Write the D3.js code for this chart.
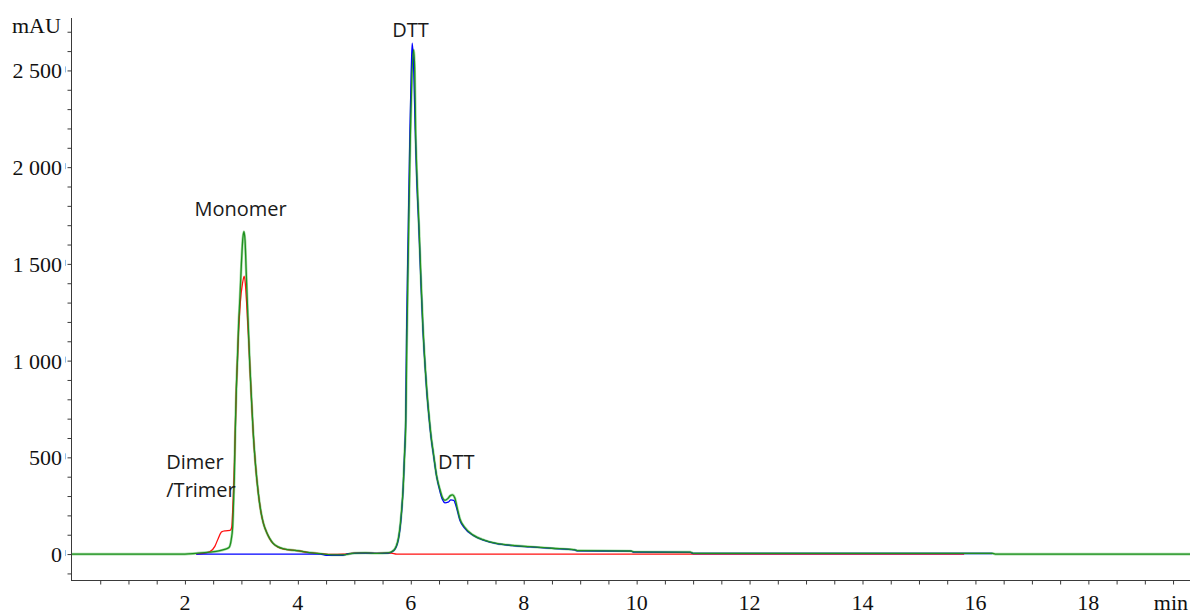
<!DOCTYPE html>
<html>
<head>
<meta charset="utf-8">
<script src="https://cdn.jsdelivr.net/npm/d3@7"></script>
<style>
  html, body { margin: 0; padding: 0; background: #ffffff; }
  svg { display: block; }
  .axis-label { font-family: "Liberation Serif", "DejaVu Serif", serif; font-size: 22px; fill: #111; }
  .peak-label { font-family: "Open Sans", "Noto Sans", sans-serif; font-size: 20px; fill: #1a1a1a; }
</style>
</head>
<body>
<svg id="chart" width="1190" height="614"></svg>
<script>
// Chromatogram traces: [retention time (min), absorbance (mAU)]
const traceRed = [
  [2.20, 0], [2.30, 3], [2.44, 12], [2.53, 40], [2.59, 81], [2.65, 115], [2.72, 120],
  [2.80, 122], [2.83, 140], [2.85, 250], [2.87, 400], [2.89, 620], [2.91, 850],
  [2.93, 1000], [2.95, 1150], [2.98, 1300], [3.02, 1400], [3.05, 1437], [3.075, 1380],
  [3.10, 1260], [3.13, 1100], [3.15, 970], [3.18, 790], [3.21, 625], [3.25, 460],
  [3.30, 314], [3.35, 210], [3.39, 159], [3.45, 110], [3.50, 80], [3.56, 55],
  [3.65, 36], [3.75, 26], [3.98, 18], [4.20, 8], [4.40, 2], [4.60, -2], [4.80, -1],
  [5.00, 5], [5.20, 6], [5.40, 4], [5.65, 5], [5.75, 0], [8.00, 0], [12.00, 0], [15.80, 0]
];

const traceBlue = [
  [2.20, 0], [3.00, 0], [4.00, 0], [4.40, 0], [4.50, -6], [4.80, -6], [4.90, 2],
  [5.10, 5], [5.40, 4], [5.60, 5], [5.70, 18], [5.78, 75], [5.83, 190], [5.866, 348],
  [5.89, 520], [5.909, 693], [5.926, 1158], [5.955, 1675], [5.985, 2192], [6.01, 2520],
  [6.025, 2641], [6.045, 2560], [6.079, 2192], [6.10, 1980], [6.144, 1675], [6.18, 1400],
  [6.215, 1158], [6.238, 1039], [6.28, 850], [6.327, 693], [6.36, 600], [6.397, 522],
  [6.458, 400], [6.52, 320], [6.56, 282], [6.605, 265], [6.66, 268], [6.71, 280],
  [6.76, 278], [6.81, 240], [6.87, 175], [6.95, 135], [7.106, 96], [7.30, 71],
  [7.52, 54], [7.80, 44], [8.11, 37], [8.50, 29], [8.90, 22], [8.95, 17], [9.90, 15],
  [9.95, 10], [10.95, 9], [11.00, 3], [14.00, 3], [16.30, 3]
];

const traceGreen = [
  [0.00, 0], [2.00, 0], [2.20, 4], [2.44, 10], [2.60, 16], [2.70, 24], [2.78, 34],
  [2.82, 75], [2.845, 140], [2.86, 260], [2.875, 400], [2.89, 620], [2.91, 850],
  [2.93, 1010], [2.95, 1180], [2.975, 1330], [3.00, 1500], [3.025, 1630], [3.045, 1667],
  [3.065, 1620], [3.085, 1460], [3.105, 1300], [3.13, 1120], [3.15, 975], [3.18, 795],
  [3.21, 625], [3.25, 462], [3.30, 314], [3.35, 212], [3.39, 159], [3.45, 110],
  [3.50, 81], [3.56, 56], [3.65, 37], [3.75, 27], [3.98, 18], [4.20, 8], [4.40, 2],
  [4.60, -4], [4.80, -4], [5.00, 5], [5.20, 6], [5.40, 4], [5.60, 6], [5.70, 20],
  [5.78, 80], [5.83, 200], [5.866, 348], [5.89, 515], [5.912, 693], [5.93, 1100],
  [5.96, 1640], [5.99, 2140], [6.02, 2480], [6.05, 2606], [6.07, 2500], [6.085, 2192],
  [6.105, 1990], [6.148, 1675], [6.183, 1400], [6.218, 1158], [6.24, 1039], [6.283, 850],
  [6.33, 693], [6.363, 600], [6.40, 522], [6.46, 400], [6.52, 330], [6.56, 292],
  [6.605, 278], [6.66, 288], [6.70, 302], [6.74, 306], [6.78, 290], [6.83, 228],
  [6.87, 182], [6.95, 140], [7.106, 98], [7.30, 72], [7.52, 55], [7.80, 45], [8.11, 38],
  [8.50, 30], [8.90, 22], [8.95, 18], [9.90, 16], [9.95, 11], [10.95, 10], [11.00, 4],
  [14.00, 4], [16.30, 4], [16.35, 0], [19.80, 0]
];

const traceColors = { red: "#ff1010", blue: "#0000ff", green: "#1f8f1f" };

// Axis ticks
const yMajorTicks = [0, 500, 1000, 1500, 2000, 2500];
const yMinorTicks = d3.range(-100, 2701, 100);
const xMajorTicks = [2, 4, 6, 8, 10, 12, 14, 16, 18];
const xMinorTicks = d3.range(0.5, 19.8, 0.5);

// Peak annotations: [text, time, absorbance] anchor positions
const peakLabels = [
  ["DTT", 5.67, 2671],
  ["Monomer", 2.17, 1750],
  ["Dimer", 1.67, 440],
  ["/Trimer", 1.67, 295],
  ["DTT", 6.48, 442]
];

const svg = d3.select("#chart");
const plot = { left: 72, right: 1190, top: 18, bottom: 580 };

const x = d3.scaleLinear().domain([0, 19.8]).range([plot.left, plot.right]);
const y = d3.scaleLinear().domain([-134, 2771]).range([plot.bottom, plot.top]);

const fmt = d3.formatLocale({ decimal: ".", thousands: " ", grouping: [3], currency: ["", ""] }).format(",d");

// Traces
const line = d3.line()
  .x(d => x(d[0]))
  .y(d => y(d[1]))
  .curve(d3.curveMonotoneX);

const traces = [
  { key: "red", data: traceRed },
  { key: "blue", data: traceBlue },
  { key: "green", data: traceGreen }
];

const traceG = svg.append("g");
traceG.selectAll("path.halo")
  .data(traces.filter(t => t.key === "green"))
  .join("path")
  .attr("class", "halo")
  .attr("d", d => line(d.data))
  .attr("fill", "none")
  .attr("stroke", "#a6dca6")
  .attr("stroke-width", 2.6)
  .attr("stroke-linejoin", "round");

traceG.selectAll("path.trace")
  .data(traces)
  .join("path")
  .attr("class", "trace")
  .attr("d", d => line(d.data))
  .attr("fill", "none")
  .attr("stroke", d => traceColors[d.key])
  .attr("stroke-width", 1.3)
  .attr("stroke-linejoin", "round");

// Y axis: minor ticks and the axis line
const axisColor = "#3a3a3a";
const yAxisG = svg.append("g")
  .attr("transform", `translate(${plot.left - 0.5},0)`)
  .call(d3.axisLeft(y).tickValues(yMinorTicks).tickSize(4).tickSizeOuter(0).tickFormat(""));
yAxisG.select(".domain").attr("stroke", axisColor).attr("d", `M0,${plot.top}V${plot.bottom}`);
yAxisG.selectAll(".tick line").attr("stroke", axisColor);

// Y labels
svg.append("g").selectAll("text")
  .data(yMajorTicks)
  .join("text")
  .attr("class", "axis-label")
  .attr("x", 62)
  .attr("y", d => y(d))
  .attr("dy", "0.36em")
  .attr("text-anchor", "end")
  .text(d => fmt(d));

svg.append("g").selectAll("line")
  .data(yMajorTicks)
  .join("line")
  .attr("x1", 65.5).attr("x2", 65.5)
  .attr("y1", d => y(d) - 4).attr("y2", d => y(d) + 2)
  .attr("stroke", "#8fc0ec")
  .attr("stroke-width", 1);

svg.append("text")
  .attr("class", "axis-label")
  .attr("x", 12)
  .attr("y", 33)
  .text("mAU");

// X axis
const xAxisG = svg.append("g")
  .attr("transform", `translate(0,${plot.bottom + 0.5})`)
  .call(d3.axisBottom(x).tickValues(xMinorTicks).tickSize(4).tickSizeOuter(0).tickFormat(""));
xAxisG.select(".domain").attr("stroke", axisColor).attr("d", `M${plot.left - 1},0H${plot.right}`);
xAxisG.selectAll(".tick line").attr("stroke", axisColor);

svg.append("g").selectAll("text")
  .data(xMajorTicks)
  .join("text")
  .attr("class", "axis-label")
  .attr("x", d => x(d))
  .attr("y", 610)
  .attr("text-anchor", "middle")
  .text(d => d);

svg.append("text")
  .attr("class", "axis-label")
  .attr("x", 1188)
  .attr("y", 610)
  .attr("text-anchor", "end")
  .text("min");

// Peak annotations
svg.append("g").selectAll("text")
  .data(peakLabels)
  .join("text")
  .attr("class", "peak-label")
  .attr("x", d => x(d[1]))
  .attr("y", d => y(d[2]))
  .text(d => d[0]);
</script>
</body>
</html>
